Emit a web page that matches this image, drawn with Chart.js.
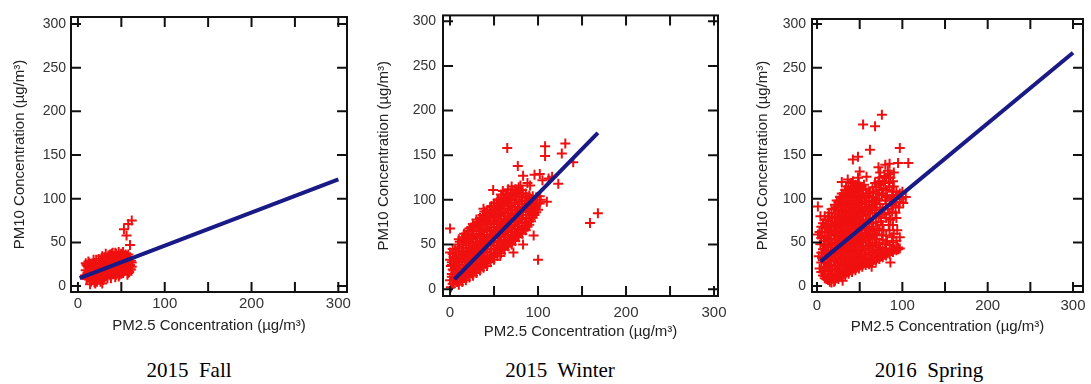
<!DOCTYPE html>
<html>
<head>
<meta charset="utf-8">
<script src="https://cdn.jsdelivr.net/npm/chart.js@4.4.1/dist/chart.umd.min.js"></script>
<style>
  body { margin: 0; background: #fff; width: 1091px; height: 384px; position: relative; overflow: hidden; }
  canvas { position: absolute; top: 0; }
  .cap { position: absolute; top: 360px; font-family: "Liberation Serif", "Times New Roman", serif; font-size: 21px; line-height: 21px; color: #000; white-space: pre; transform: translateX(-50%); }
</style>
</head>
<body>
<canvas id="fall" width="360" height="345" style="left:0px"></canvas>
<canvas id="winter" width="370" height="350" style="left:365px"></canvas>
<canvas id="spring" width="351" height="345" style="left:740px"></canvas>
<div class="cap" style="left:189px">2015  Fall</div>
<div class="cap" style="left:560px">2015  Winter</div>
<div class="cap" style="left:929px">2016  Spring</div>
<script>
// tick values
const xTicks = [0, 100, 200, 300];
const xMinor = [50, 150, 250];
const yTicks = [0, 50, 100, 150, 200, 250, 300];

// fitted lines, [PM2.5, PM10]
const fallFit = [[2, 9], [300, 122]];
const winterFit = [[5, 11], [168, 175]];
const springFit = [[4, 28], [300, 267]];

// hourly pairs, [PM2.5, PM10]
const fallPoints = [
  [8,12],[9,18],[10,8],[10,24],[11,15],[12,28],[12,21],[13,11],[14,2],[14,17],[15,23],[16,7],[17,13],[18,19],
  [18,26],[19,9],[20,15],[21,30],[21,22],[22,5],[22,11],[23,18],[24,27],[25,14],[25,8],[26,21],[27,31],[28,16],
  [28,3],[29,25],[30,11],[30,20],[31,33],[32,15],[33,27],[34,9],[34,22],[35,35],[36,18],[36,30],[37,13],[38,25],
  [39,37],[40,20],[40,33],[41,15],[42,28],[43,38],[43,10],[44,23],[45,34],[46,17],[46,29],[47,39],[48,13],[48,24],
  [49,32],[50,20],[50,37],[51,27],[52,15],[52,34],[53,22],[54,30],[55,18],[55,36],[56,25],[57,13],[57,32],[58,21],
  [58,28],[59,16],[60,24],[60,33],[61,19],[62,27],[11,23],[56,58],[53,65],[58,71],[62,75],[60,47],[20,3],[26,5],
  [15,5],[35,26],[45,26],[27,12],[38,17],[44,31],[32,24],[24,20],[16,18],
  [10,13],[12,16],[14,9],[14,24],[16,12],[17,20],[18,30],[19,4],[20,25],[22,17],[23,8],[24,13],[24,31],[26,10],
  [26,26],[27,18],[28,34],[29,7],[30,15],[30,29],[32,19],[32,37],[33,11],[34,31],[35,15],[36,24],[37,36],[38,9],
  [38,21],[39,29],[40,14],[40,38],[41,25],[42,18],[42,34],[44,13],[44,37],[45,20],[46,33],[47,11],[47,27],[48,19],
  [49,36],[50,14],[50,29],[51,22],[52,39],[53,17],[54,26],[54,35],[56,20],[56,31],[58,15],[58,36],[59,25],[60,19],
  [61,29],[62,22],[9,26],[13,26]
];

const winterPoints = [
  [1,2],[0,10],[2,17],[1,26],[0,33],[3,39],[4,6],[5,13],[4,21],[5,29],[3,45],
  [8,8],[7,17],[9,24],[8,32],[7,41],[9,50],[12,11],[13,19],[11,27],[12,35],[13,43],[11,53],
  [16,14],[15,22],[17,30],[16,38],[15,46],[17,55],[16,62],[20,16],[21,25],[19,33],[20,41],[21,49],[19,57],[20,65],
  [24,19],[23,27],[25,35],[24,43],[23,51],[25,59],[24,69],[28,21],[29,29],[27,37],[28,45],[29,53],[27,61],[28,71],
  [32,25],[31,33],[33,41],[32,49],[31,57],[33,65],[32,75],[36,27],[37,35],[35,43],[36,51],[37,59],[35,67],[36,77],[37,83],
  [40,29],[39,37],[41,45],[40,53],[39,61],[41,69],[40,79],[39,87],[44,33],[45,41],[43,49],[44,57],[45,65],[43,73],[44,81],[45,89],
  [48,36],[47,45],[49,53],[48,61],[47,69],[49,77],[48,85],[47,93],[52,40],[53,49],[51,57],[52,65],[53,73],[51,81],[52,89],[53,97],
  [56,44],[55,53],[57,61],[56,69],[55,77],[57,85],[56,93],[55,100],[60,46],[61,55],[59,63],[60,71],[61,79],[59,87],[60,95],[61,103],
  [64,50],[63,58],[65,66],[64,74],[63,82],[65,90],[64,98],[63,106],[68,52],[69,61],[67,69],[68,77],[69,85],[67,93],[68,101],[69,108],
  [72,56],[71,64],[73,72],[72,80],[71,88],[73,96],[72,104],[71,111],[76,60],[77,68],[75,76],[76,84],[77,92],[75,100],[76,108],
  [80,63],[79,71],[81,79],[80,87],[79,95],[81,103],[80,111],[84,67],[85,75],[83,83],[84,91],[85,99],[83,107],
  [88,70],[87,79],[89,87],[88,95],[87,103],[92,76],[93,85],[91,93],[92,101],[96,83],[97,91],[95,99],[100,89],[99,97],
  [3,6],[2,14],[3,22],[2,30],[4,36],[6,10],[6,18],[6,26],[6,35],[6,44],
  [10,5],[10,14],[10,22],[10,30],[10,38],[10,47],[10,56],[14,8],[14,16],[14,24],[14,32],[14,40],[14,50],[14,58],
  [18,10],[18,19],[18,27],[18,35],[18,43],[18,52],[18,60],[22,13],[22,21],[22,29],[22,37],[22,45],[22,53],[22,62],[22,68],
  [26,15],[26,23],[26,31],[26,39],[26,48],[26,56],[26,65],[26,73],[30,18],[30,26],[30,35],[30,43],[30,51],[30,60],[30,69],[30,78],
  [34,21],[34,30],[34,38],[34,46],[34,54],[34,62],[34,71],[34,80],[38,24],[38,32],[38,40],[38,48],[38,56],[38,64],[38,72],[38,81],[38,90],
  [42,26],[42,34],[42,42],[42,50],[42,58],[42,66],[42,75],[42,85],[46,30],[46,38],[46,50],[46,58],[46,66],[46,74],[46,83],[46,92],
  [50,33],[50,44],[50,54],[50,62],[50,70],[50,80],[50,88],[50,96],[54,37],[54,47],[54,58],[54,66],[54,75],[54,84],[54,92],[54,100],
  [58,40],[58,51],[58,59],[58,67],[58,74],[58,82],[58,90],[58,99],[58,106],[62,44],[62,53],[62,61],[62,69],[62,77],[62,86],[62,94],[62,102],
  [66,48],[66,56],[66,64],[66,72],[66,80],[66,89],[66,97],[66,105],[66,112],[70,50],[70,58],[70,67],[70,75],[70,83],[70,92],[70,100],[70,107],
  [74,54],[74,62],[74,71],[74,80],[74,88],[74,96],[74,104],[74,112],[78,58],[78,66],[78,74],[78,82],[78,90],[78,98],[78,106],[78,114],
  [82,62],[82,70],[82,78],[82,87],[82,95],[82,103],[82,111],[86,66],[86,74],[86,83],[86,91],[86,99],[86,107],
  [90,72],[90,80],[90,89],[90,97],[90,105],[94,80],[94,88],[94,96],[94,104],[98,86],[98,94],[98,103],[102,96],[102,104],
  [0,68],[0,41],[49,111],[65,158],[108,160],[131,163],[108,149],[127,152],[140,142],[77,138],[83,127],[102,129],
  [123,118],[159,74],[168,85],[100,33],[110,98],[103,100],[91,116],[70,115],[57,37],[72,41],[83,50],[95,60],
  [88,119],[105,122],[116,126],[96,128],[60,110],[80,116],[112,124],[2,27]
];

const springPoints = [
  [3,20],[2,34],[4,48],[3,62],[7,12],[8,22],[6,32],[7,42],[8,52],[6,62],[7,72],
  [11,8],[10,17],[12,26],[11,36],[10,46],[12,56],[11,66],[10,76],[15,5],[16,14],[14,24],[15,34],[16,44],[14,54],[15,64],[16,74],[14,84],
  [19,9],[18,18],[20,28],[19,38],[18,48],[20,58],[19,68],[18,78],[20,88],[23,10],[24,20],[22,30],[23,40],[24,50],[22,60],[23,70],[24,80],[22,90],[23,98],
  [27,12],[26,22],[28,32],[27,42],[26,52],[28,62],[27,72],[26,82],[28,92],[27,102],[31,14],[32,24],[30,34],[31,44],[32,54],[30,64],[31,74],[32,84],[30,94],[31,104],
  [35,16],[34,26],[36,36],[35,46],[34,56],[36,66],[35,76],[34,86],[36,96],[35,106],[34,114],
  [39,18],[40,28],[38,38],[39,48],[40,58],[38,68],[39,78],[40,88],[38,98],[39,108],[40,118],
  [43,20],[42,30],[44,40],[43,50],[42,60],[44,70],[43,80],[42,90],[44,100],[43,110],[42,120],
  [47,22],[48,32],[46,42],[47,52],[48,62],[46,72],[47,82],[48,92],[46,102],[47,112],[48,124],
  [51,24],[50,34],[52,44],[51,54],[50,64],[52,74],[51,84],[50,94],[52,104],[51,114],
  [55,26],[56,36],[54,46],[55,56],[56,66],[54,76],[55,86],[56,96],[54,106],[55,116],
  [59,27],[58,36],[60,46],[59,56],[58,66],[60,76],[59,86],[58,96],[60,106],
  [63,28],[64,38],[62,48],[63,58],[64,68],[62,78],[63,88],[64,98],[62,108],
  [67,30],[66,40],[68,50],[67,60],[66,72],[68,84],[67,96],[66,108],[68,118],
  [71,32],[72,42],[70,54],[71,66],[72,80],[70,94],[71,106],[72,120],
  [75,34],[74,44],[76,58],[75,74],[74,90],[76,104],[75,116],[74,130],
  [79,36],[80,48],[78,64],[79,82],[80,98],[78,112],[79,126],[83,38],[82,52],[84,70],[83,88],[82,102],[84,118],[83,132],
  [87,40],[88,56],[86,76],[87,94],[88,108],[86,124],[91,42],[90,60],[92,84],[91,100],[90,114],[95,44],[94,64],[96,90],[95,104],
  [99,100],[100,108],
  [5,16],[5,27],[5,38],[5,55],[5,68],[9,9],[9,18],[9,28],[9,38],[9,48],[9,58],[9,68],[9,80],
  [13,7],[13,12],[13,21],[13,31],[13,41],[13,51],[13,61],[13,71],[13,80],[17,4],[17,9],[17,19],[17,29],[17,39],[17,49],[17,59],[17,69],[17,79],[17,88],
  [21,6],[21,14],[21,23],[21,33],[21,43],[21,53],[21,63],[21,73],[21,83],[21,93],[25,8],[25,16],[25,26],[25,36],[25,46],[25,56],[25,66],[25,76],[25,86],[25,96],
  [29,10],[29,18],[29,28],[29,38],[29,48],[29,58],[29,68],[29,78],[29,88],[29,98],[29,106],[33,12],[33,20],[33,30],[33,40],[33,50],[33,60],[33,70],[33,80],[33,90],[33,100],[33,110],
  [37,14],[37,22],[37,32],[37,42],[37,52],[37,62],[37,72],[37,82],[37,92],[37,102],[37,112],[41,16],[41,24],[41,34],[41,44],[41,54],[41,64],[41,74],[41,84],[41,94],[41,104],[41,114],
  [45,18],[45,26],[45,36],[45,46],[45,56],[45,66],[45,76],[45,86],[45,96],[45,106],[45,116],[49,20],[49,28],[49,38],[49,48],[49,58],[49,68],[49,78],[49,88],[49,98],[49,108],[49,118],
  [53,22],[53,30],[53,40],[53,50],[53,60],[53,70],[53,80],[53,90],[53,100],[53,110],[57,24],[57,32],[57,41],[57,51],[57,61],[57,71],[57,81],[57,91],[57,101],[57,111],
  [61,25],[61,33],[61,43],[61,53],[61,63],[61,73],[61,83],[61,93],[61,103],[65,27],[65,35],[65,45],[65,55],[65,65],[65,78],[65,90],[65,102],[65,113],
  [69,29],[69,37],[69,47],[69,59],[69,73],[69,87],[69,100],[69,113],[73,31],[73,39],[73,50],[73,64],[73,82],[73,98],[73,110],[73,124],
  [77,33],[77,41],[77,53],[77,70],[77,88],[77,106],[77,120],[81,35],[81,43],[81,58],[81,78],[81,94],[81,110],[81,124],
  [85,37],[85,47],[85,64],[85,84],[85,100],[85,114],[85,128],[89,39],[89,50],[89,70],[89,92],[89,104],[89,120],
  [93,41],[93,52],[93,78],[93,96],[93,108],[97,43],[97,56],[97,96],[97,106],
  [76,196],[54,185],[68,183],[62,156],[42,145],[48,148],[97,158],[80,139],[95,141],[107,141],[29,119],[50,131],
  [1,91],[4,80],[1,59],[48,25],[64,22],[86,27],[95,42],[104,102],[101,95],[88,85],[15,10],[20,5],[30,6],
  [90,130],[85,140],[72,136],[58,125],[36,122]
];

// frame + inward ticks on all four sides
const frame = {
  id: 'frame',
  afterDatasetsDraw(chart) {
    const { ctx, chartArea: a, scales: { x, y } } = chart;
    ctx.save();
    ctx.strokeStyle = '#111';
    ctx.lineWidth = 2;
    ctx.strokeRect(a.left, a.top, a.right - a.left, a.bottom - a.top);
    ctx.beginPath();
    xTicks.concat(xMinor).forEach(v => {
      const px = x.getPixelForValue(v);
      ctx.moveTo(px, a.bottom); ctx.lineTo(px, a.bottom - 10);
      ctx.moveTo(px, a.top); ctx.lineTo(px, a.top + 10);
    });
    yTicks.forEach(v => {
      const py = y.getPixelForValue(v);
      ctx.moveTo(a.left, py); ctx.lineTo(a.left + 10, py);
      ctx.moveTo(a.right, py); ctx.lineTo(a.right - 10, py);
    });
    ctx.stroke();
    ctx.restore();
  }
};

const toXY = arr => arr.map(p => ({ x: p[0], y: p[1] }));

function panel(id, points, fit, o) {
  return new Chart(document.getElementById(id), {
    type: 'scatter',
    data: {
      datasets: [
        { data: toXY(points), pointStyle: 'cross', pointRadius: 5, borderColor: '#f01010', borderWidth: 2, order: 2 },
        { type: 'line', data: toXY(fit), borderColor: '#1a1a86', borderWidth: 4, pointRadius: 0, order: 1 }
      ]
    },
    options: {
      responsive: false,
      animation: false,
      devicePixelRatio: 1,
      layout: { padding: o.pad },
      plugins: { legend: { display: false }, tooltip: { enabled: false } },
      scales: {
        x: {
          type: 'linear', min: o.x[0], max: o.x[1],
          afterBuildTicks: s => { s.ticks = xTicks.map(v => ({ value: v })); },
          afterFit: s => { s.height = o.xh; },
          grid: { display: false, drawTicks: false }, border: { display: false },
          ticks: { padding: o.xtp, color: '#333', font: { family: 'Liberation Sans, Arial', size: 15 }, maxRotation: 0, autoSkip: false },
          title: { display: true, text: 'PM2.5 Concentration (µg/m³)', color: '#222', font: { family: 'Liberation Sans, Arial', size: 15 }, padding: { top: 0, bottom: 0 } }
        },
        y: {
          type: 'linear', min: o.y[0], max: o.y[1],
          afterBuildTicks: s => { s.ticks = yTicks.map(v => ({ value: v })); },
          afterFit: s => { s.width = o.yw; },
          grid: { display: false, drawTicks: false }, border: { display: false },
          ticks: { padding: o.ytp, color: '#333', font: { family: 'Liberation Sans, Arial', size: 14 }, autoSkip: false },
          title: { display: true, text: 'PM10 Concentration (µg/m³)', color: '#222', font: { family: 'Liberation Sans, Arial', size: 15 }, padding: { top: o.ytitle, bottom: 0 } }
        }
      }
    },
    plugins: [frame]
  });
}

panel('fall', fallPoints, fallFit, {
  pad: { left: 0, top: 17, right: 13, bottom: 10 }, x: [-8, 310], y: [-6.8, 308],
  xh: 43, yw: 71, xtp: 3, ytp: 5, ytitle: 11
});
panel('winter', winterPoints, winterFit, {
  pad: { left: 0, top: 13, right: 17, bottom: 9 }, x: [-8, 304.5], y: [-7.7, 306.6],
  xh: 45, yw: 78, xtp: 8, ytp: 7, ytitle: 10
});
panel('spring', springPoints, springFit, {
  pad: { left: 0, top: 19, right: 8, bottom: 9 }, x: [-5.9, 311.7], y: [-6.8, 305.7],
  xh: 44, yw: 72, xtp: 5, ytp: 6, ytitle: 14
});
</script>
</body>
</html>
